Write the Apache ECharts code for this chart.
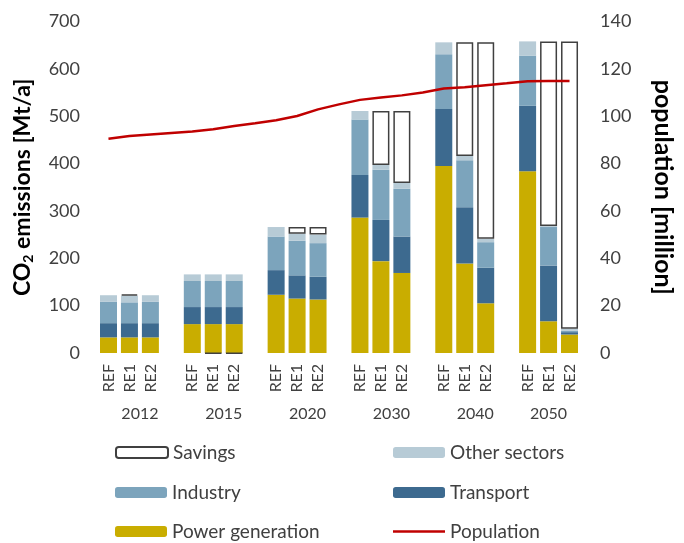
<!DOCTYPE html>
<html>
<head>
<meta charset="utf-8">
<script src="https://cdn.jsdelivr.net/npm/echarts@6/dist/echarts.min.js"></script>
<style>
  html, body { margin: 0; padding: 0; background: #fff; }
  #chart { width: 684px; height: 543px; }
</style>
</head>
<body>
<div id="chart"></div>
<script>
const years = ['2012', '2015', '2020', '2030', '2040', '2050']
const scenarios = ['REF', 'RE1', 'RE2']

// CO2 emissions [Mt/a], per year: REF, RE1, RE2
const powerGeneration = [33, 33, 33, 61, 61, 61, 123, 115, 113, 286, 194, 169, 395, 189, 105, 384, 67, 39]
const transport = [30, 30, 30, 36, 36, 36, 52, 49, 48, 90, 87, 77, 120, 119, 75, 138, 118, 5]
const industry = [45, 44, 45, 55, 55, 55, 71, 73, 71, 117, 106, 101, 116, 99, 54, 106, 81, 3]
const otherSectors = [14, 14, 14, 14, 14, 14, 20, 15, 18, 18, 10, 12, 25, 9, 7, 30, 2, 4]
const savings = [null, 3, null, null, -1, -1, null, 14, 16, null, 114, 152, null, 240, 415, null, 390, 607]

// population [million], one value per slot (gaps between the years included)
const population = [90.5, 91.6, 92.3, 92.9, 93.5, 94.5, 95.9, 97.0, 98.3, 100.1, 102.9, 105.0,
  106.9, 107.9, 108.8, 110.0, 111.7, 112.2, 113.1, 113.9, 114.8, 114.9, 114.9]

// put an empty slot between the year groups
function spread(values, gap) {
  const out = []
  years.forEach((yr, i) => {
    for (let s = 0; s < scenarios.length; s++) out.push(values[i * scenarios.length + s])
    if (i < years.length - 1) out.push(gap)
  })
  return out
}

const slotLabels = spread(years.flatMap(() => scenarios), '')
// year label sits in the middle of its group + following gap
const yearPos = years.map((yr, i) => i < years.length - 1 ? i * 4 + 1.5 : i * 4 + 1)

const textColor = '#404040'
const font = 'Lato'

const chart = echarts.init(document.getElementById('chart'))

function barSeries(name, values, color, extra) {
  return Object.assign({
    name: name,
    type: 'bar',
    stack: 'total',
    barWidth: 17,
    data: spread(values, null),
    itemStyle: { color: color },
    emphasis: { disabled: true }
  }, extra || {})
}

function legendAt(item, left, centerY, itemHeight) {
  return {
    data: [item],
    left: left,
    top: centerY - 10,
    padding: 0,
    itemWidth: 52,
    itemHeight: itemHeight || 11,
    itemGap: 6,
    selectedMode: false,
    textStyle: { fontFamily: font, fontSize: 19, color: textColor }
  }
}

const option = {
  animation: false,
  grid: { left: 98, right: 84.5, top: 21.5, bottom: 190 },
  legend: [
    legendAt('Savings', 115, 453),
    legendAt('Other sectors', 393, 453),
    legendAt('Industry', 115, 493),
    legendAt('Transport', 393, 493),
    legendAt('Power generation', 115, 532),
    legendAt({ name: 'Population', icon: 'rect' }, 393, 532, 2.5)
  ],
  xAxis: [
    {
      type: 'category',
      data: slotLabels,
      axisLine: { show: false },
      axisTick: { show: false },
      axisLabel: { interval: 0, rotate: 90, margin: 11, fontFamily: font, fontSize: 16, color: textColor }
    },
    {
      type: 'value',
      min: -0.5,
      max: 22.5,
      position: 'bottom',
      axisLine: { show: false },
      axisTick: { show: false },
      splitLine: { show: false },
      axisLabel: {
        customValues: yearPos,
        margin: 53,
        fontFamily: font,
        fontSize: 16,
        color: textColor,
        formatter: (v) => years[yearPos.indexOf(v)]
      }
    }
  ],
  yAxis: [
    {
      type: 'value',
      min: 0,
      max: 700,
      interval: 100,
      splitLine: { show: false },
      axisLine: { show: false },
      axisTick: { show: false },
      axisLabel: { margin: 18, fontFamily: font, fontSize: 18, color: textColor },
      name: '{b|CO}{s|2}{b| emissions [Mt/a]}',
      nameLocation: 'middle',
      nameGap: 63,
      nameTextStyle: {
        rich: {
          b: { fontFamily: font, fontSize: 23, fontWeight: 'bold', color: '#000' },
          s: { fontFamily: font, fontSize: 14, fontWeight: 'bold', color: '#000', padding: [10, 0, 0, 0] }
        }
      }
    },
    {
      type: 'value',
      min: 0,
      max: 140,
      interval: 20,
      position: 'right',
      splitLine: { show: false },
      axisLine: { show: false },
      axisTick: { show: false },
      axisLabel: { margin: 20, fontFamily: font, fontSize: 18, color: textColor },
      name: 'population [million]',
      nameLocation: 'middle',
      nameRotate: -90,
      nameGap: 71,
      nameTextStyle: { fontFamily: font, fontSize: 25, fontWeight: 'bold', color: '#000' }
    }
  ],
  series: [
    barSeries('Power generation', powerGeneration, '#C9AD00'),
    barSeries('Transport', transport, '#3D6A8F'),
    barSeries('Industry', industry, '#7CA4BC'),
    barSeries('Other sectors', otherSectors, '#B7CBD6'),
    barSeries('Savings', savings, '#ffffff', {
      clip: false,
      itemStyle: { color: '#ffffff', borderColor: '#404040', borderWidth: 1.5 }
    }),
    {
      name: 'Population',
      type: 'line',
      yAxisIndex: 1,
      data: population,
      symbol: 'none',
      z: 5,
      lineStyle: { color: '#C00000', width: 2.5 },
      itemStyle: { color: '#C00000' },
      emphasis: { disabled: true }
    }
  ]
}

chart.setOption(option)
</script>
</body>
</html>
